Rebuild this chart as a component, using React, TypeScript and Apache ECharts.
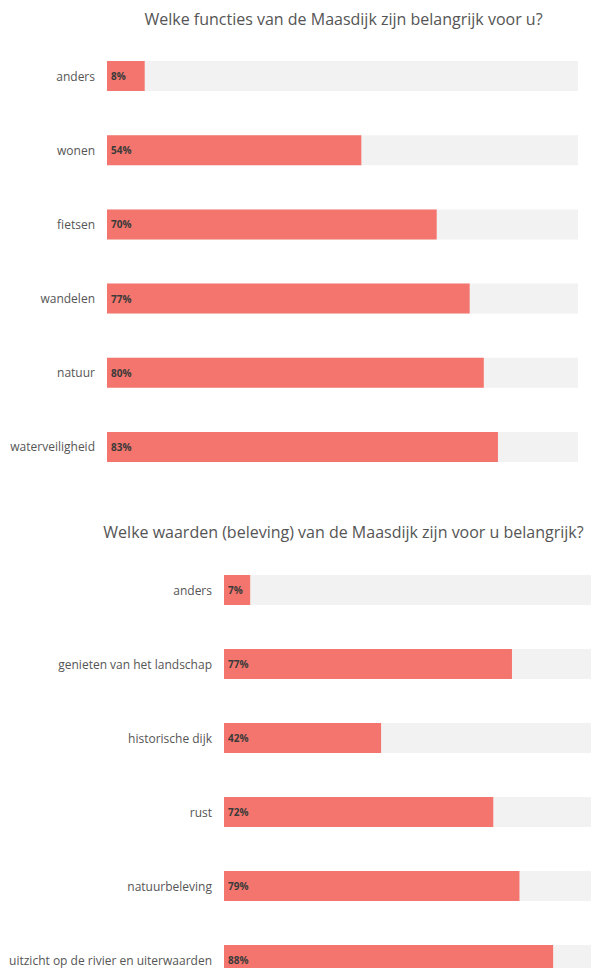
import React, { useEffect, useRef } from "react";
import * as echarts from "echarts";

const title1 = "Welke functies van de Maasdijk zijn belangrijk voor u?";
const categories1 = ["anders", "wonen", "fietsen", "wandelen", "natuur", "waterveiligheid"];
const values1 = [8, 54, 70, 77, 80, 83];

const title2 = "Welke waarden (beleving) van de Maasdijk zijn voor u belangrijk?";
const categories2 = [
  "anders",
  "genieten van het landschap",
  "historische dijk",
  "rust",
  "natuurbeleving",
  "uitzicht op de rivier en uiterwaarden",
];
const values2 = [7, 77, 42, 72, 79, 88];

const FONT = "'Open Sans', 'Noto Sans', sans-serif";
const BAR = "#F4756D";
const BG = "#F2F2F2";

export default function App() {
  const ref = useRef<HTMLDivElement>(null);
  useEffect(() => {
    if (!ref.current) return;
    const chart = echarts.init(ref.current, undefined, { renderer: "svg" });
    const catAxis = (gridIndex: number, data: string[]) => ({
      type: "category",
      gridIndex,
      data,
      inverse: true,
      axisLine: { show: false },
      axisTick: { show: false },
      axisLabel: { color: "#555", fontSize: 12, fontFamily: FONT, margin: 12 },
    });
    const valAxis = (gridIndex: number) => ({
      type: "value",
      gridIndex,
      min: 0,
      max: 100,
      show: false,
      splitLine: { show: false },
    });
    const barSeries = (idx: number, data: number[]) => ({
      type: "bar",
      xAxisIndex: idx,
      yAxisIndex: idx,
      data,
      barWidth: 30,
      showBackground: true,
      backgroundStyle: { color: BG },
      itemStyle: { color: BAR },
      label: {
        show: true,
        position: "insideLeft",
        distance: 4,
        formatter: "{c}%",
        color: "#3a3a3a",
        fontSize: 10,
        fontWeight: "bold",
        fontFamily: FONT,
      },
    });
    chart.setOption({
      animation: false,
      textStyle: { fontFamily: FONT },
      graphic: [
        {
          type: "text",
          x: 343.5,
          y: 19,
          style: {
            text: title1,
            fill: "#555",
            fontSize: 16,
            fontFamily: FONT,
            textAlign: "center",
            textVerticalAlign: "middle",
          },
        },
        {
          type: "text",
          x: 343.5,
          y: 532,
          style: {
            text: title2,
            fill: "#555",
            fontSize: 16,
            fontFamily: FONT,
            textAlign: "center",
            textVerticalAlign: "middle",
          },
        },
      ],
      grid: [
        { left: 107, right: 22, top: 39, height: 445 },
        { left: 224, right: 2, top: 553, height: 444 },
      ],
      xAxis: [valAxis(0), valAxis(1)],
      yAxis: [catAxis(0, categories1), catAxis(1, categories2)],
      series: [barSeries(0, values1), barSeries(1, values2)],
    });
    return () => chart.dispose();
  }, []);
  return (
    <div
      style={{
        position: "absolute",
        left: 0,
        top: 0,
        width: 591,
        height: 968,
        overflow: "hidden",
        background: "#fff",
      }}
    >
      <div ref={ref} style={{ width: 600, height: 1010 }} />
    </div>
  );
}
